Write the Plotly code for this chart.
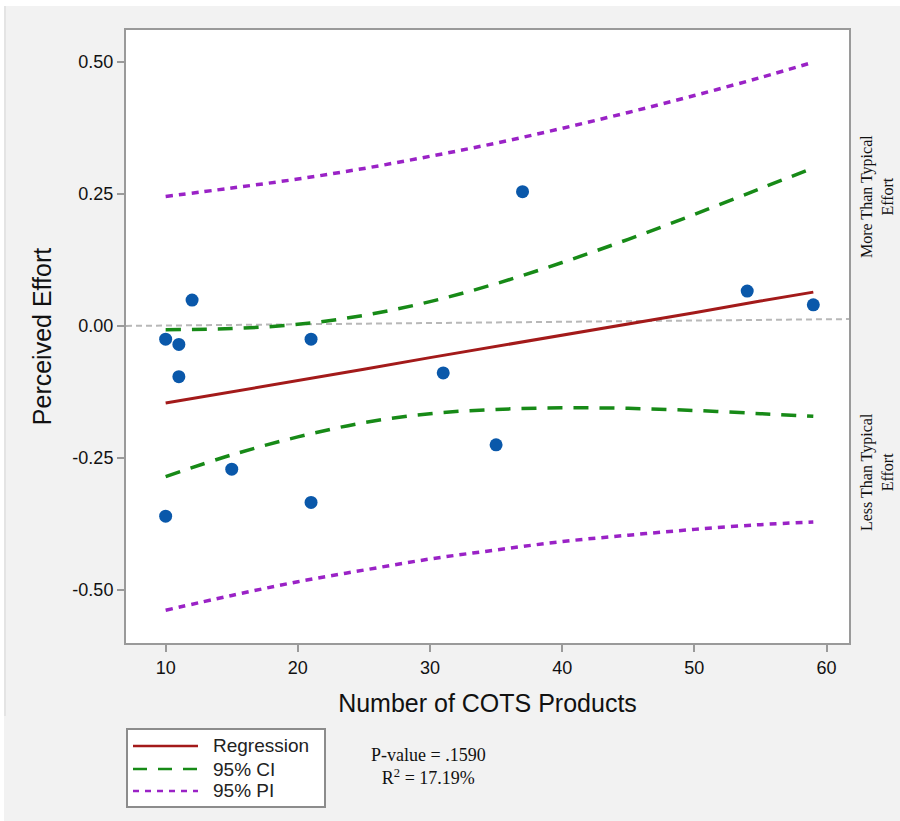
import plotly.graph_objects as go

# ---- data ----
cots = [10, 10, 11, 11, 12, 15, 21, 21, 31, 35, 37, 54, 59]
effort = [-0.025, -0.36, -0.035, -0.096, 0.049, -0.271, -0.025, -0.334, -0.089, -0.225, 0.254, 0.066, 0.040]

band_x = [10, 15, 20, 25, 30, 35, 40, 45, 50, 55, 59]
reg_y = [-0.146, -0.125, -0.103, -0.082, -0.060, -0.039, -0.017, 0.004, 0.025, 0.047, 0.064]
ci_upper = [-0.007, -0.005, 0.003, 0.020, 0.046, 0.080, 0.120, 0.164, 0.211, 0.260, 0.299]
ci_lower = [-0.285, -0.244, -0.210, -0.183, -0.166, -0.158, -0.155, -0.156, -0.160, -0.166, -0.171]
pi_upper = [0.245, 0.261, 0.278, 0.298, 0.321, 0.346, 0.374, 0.404, 0.436, 0.470, 0.499]
pi_lower = [-0.538, -0.510, -0.484, -0.462, -0.441, -0.424, -0.408, -0.396, -0.385, -0.376, -0.371]

ref_x = [7.0, 61.7]
ref_y = [0.0, 0.013]

x_ticks = [10, 20, 30, 40, 50, 60]
y_ticks = [-0.50, -0.25, 0.00, 0.25, 0.50]
y_tick_text = ["-0.50", "-0.25", "0.00", "0.25", "0.50"]

legend_names = ["Regression", "95% CI", "95% PI"]

RED = "#a31a1a"
GREEN = "#178a17"
PURPLE = "#9a22c6"
BLUE = "#0a58aa"

W, H = 900, 821
ML, MR, MT, MB = 126, 51, 30, 178
PW, PH = W - ML - MR, H - MT - MB


def px(x):
    return (x - ML) / PW


def py(y):
    return (H - MB - y) / PH


fig = go.Figure()

fig.add_trace(go.Scatter(x=ref_x, y=ref_y, mode="lines",
                         line=dict(color="#b8b8b8", width=2, dash="6px,4px"),
                         showlegend=False, hoverinfo="skip"))
fig.add_trace(go.Scatter(x=band_x, y=pi_upper, mode="lines", line_shape="spline",
                         line=dict(color=PURPLE, width=3.5, dash="7px,6px"), showlegend=False))
fig.add_trace(go.Scatter(x=band_x, y=pi_lower, mode="lines", line_shape="spline",
                         line=dict(color=PURPLE, width=3.5, dash="7px,6px"), showlegend=False))
fig.add_trace(go.Scatter(x=band_x, y=ci_upper, mode="lines", line_shape="spline",
                         line=dict(color=GREEN, width=3.5, dash="15px,11px"), showlegend=False))
fig.add_trace(go.Scatter(x=band_x, y=ci_lower, mode="lines", line_shape="spline",
                         line=dict(color=GREEN, width=3.5, dash="15px,11px"), showlegend=False))
fig.add_trace(go.Scatter(x=band_x, y=reg_y, mode="lines",
                         line=dict(color=RED, width=3), showlegend=False))
fig.add_trace(go.Scatter(x=cots, y=effort, mode="markers",
                         marker=dict(color=BLUE, size=13), showlegend=False))

shapes = []
annotations = []

# outer white strips (top and left) and faint edge line
shapes.append(dict(type="rect", xref="paper", yref="paper", x0=px(0), x1=px(W), y0=py(6), y1=py(0),
                   fillcolor="white", line=dict(width=0), layer="below"))
shapes.append(dict(type="rect", xref="paper", yref="paper", x0=px(0), x1=px(4), y0=py(H), y1=py(0),
                   fillcolor="white", line=dict(width=0), layer="below"))
shapes.append(dict(type="line", xref="paper", yref="paper", x0=px(5), x1=px(5), y0=py(716), y1=py(6),
                   line=dict(color="#d6d6d6", width=1)))

# manual legend
shapes.append(dict(type="rect", xref="paper", yref="paper", x0=px(127), x1=px(325), y0=py(807), y1=py(729),
                   fillcolor="white", line=dict(color="#8c8c8c", width=2)))
leg_styles = [dict(color=RED, width=2.5), dict(color=GREEN, width=2.5, dash="14px,11px"),
              dict(color=PURPLE, width=2.5, dash="6px,6px")]
leg_y = [746, 769, 791]
for name, st, yy in zip(legend_names, leg_styles, leg_y):
    shapes.append(dict(type="line", xref="paper", yref="paper", x0=px(133), x1=px(198),
                       y0=py(yy), y1=py(yy), line=st))
    annotations.append(dict(text=name, xref="paper", yref="paper", x=px(211), y=py(yy),
                            xanchor="left", yanchor="middle", showarrow=False,
                            font=dict(family="Liberation Sans, Arial", size=19, color="#222")))

annotations.append(dict(text="P-value = .1590<br>R<sup>2</sup> = 17.19%", xref="paper", yref="paper",
                        x=px(428), y=py(766), xanchor="center", yanchor="middle", showarrow=False,
                        align="center",
                        font=dict(family="Liberation Serif, Times New Roman", size=18, color="#111")))

annotations.append(dict(text="More Than Typical<br>Effort", xref="paper", yref="paper",
                        x=px(877), y=py(197), xanchor="center", yanchor="middle", showarrow=False,
                        textangle=-90, align="center",
                        font=dict(family="Liberation Serif, Times New Roman", size=16, color="#111")))
annotations.append(dict(text="Less Than Typical<br>Effort", xref="paper", yref="paper",
                        x=px(877), y=py(472), xanchor="center", yanchor="middle", showarrow=False,
                        textangle=-90, align="center",
                        font=dict(family="Liberation Serif, Times New Roman", size=16, color="#111")))

axis_common = dict(showline=True, mirror=True, linecolor="#9a9a9a", linewidth=2,
                   ticks="outside", ticklen=7, tickwidth=2, tickcolor="#9a9a9a",
                   showgrid=False, zeroline=False,
                   tickfont=dict(family="Liberation Sans, Arial", size=18, color="#111"))

fig.update_layout(
    width=W, height=H,
    margin=dict(l=ML, r=MR, t=MT, b=MB),
    paper_bgcolor="#f2f2f2", plot_bgcolor="white",
    xaxis=dict(range=[7.0, 61.7], tickvals=x_ticks,
               title=dict(text="Number of COTS Products", standoff=18,
                          font=dict(family="Liberation Sans, Arial", size=25, color="#111")),
               **axis_common),
    yaxis=dict(range=[-0.60, 0.56], tickvals=y_ticks, ticktext=y_tick_text,
               title=dict(text="Perceived Effort", standoff=14,
                          font=dict(family="Liberation Sans, Arial", size=25, color="#111")),
               **axis_common),
    shapes=shapes, annotations=annotations,
    showlegend=False,
)

fig.write_html("out.html", config={"displayModeBar": False},
               post_script="document.body.style.margin='0';document.body.style.overflow='hidden';")
